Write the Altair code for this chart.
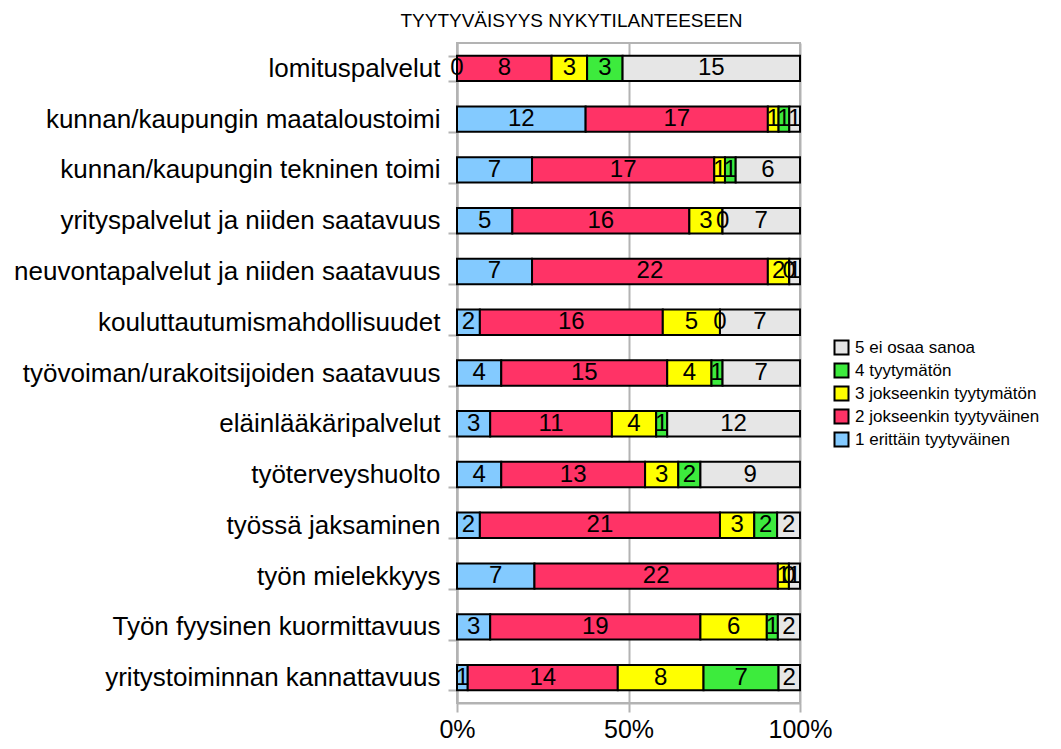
import altair as alt
import pandas as pd

categories = [
    "lomituspalvelut",
    "kunnan/kaupungin maataloustoimi",
    "kunnan/kaupungin tekninen toimi",
    "yrityspalvelut ja niiden saatavuus",
    "neuvontapalvelut ja niiden saatavuus",
    "kouluttautumismahdollisuudet",
    "työvoiman/urakoitsijoiden saatavuus",
    "eläinlääkäripalvelut",
    "työterveyshuolto",
    "työssä jaksaminen",
    "työn mielekkyys",
    "Työn fyysinen kuormittavuus",
    "yritystoiminnan kannattavuus",
]

levels = [
    "1 erittäin tyytyväinen",
    "2 jokseenkin tyytyväinen",
    "3 jokseenkin tyytymätön",
    "4 tyytymätön",
    "5 ei osaa sanoa",
]

v1 = [0, 12, 7, 5, 7, 2, 4, 3, 4, 2, 7, 3, 1]
v2 = [8, 17, 17, 16, 22, 16, 15, 11, 13, 21, 22, 19, 14]
v3 = [3, 1, 1, 3, 2, 5, 4, 4, 3, 3, 1, 6, 8]
v4 = [3, 1, 1, 0, 0, 0, 1, 1, 2, 2, 0, 1, 7]
v5 = [15, 1, 6, 7, 1, 7, 7, 12, 9, 2, 1, 2, 2]

colors = ["#83CAFF", "#FF3366", "#FFFF00", "#3DEB3D", "#E6E6E6"]

series = [v1, v2, v3, v4, v5]
rows = []
for i, cat in enumerate(categories):
    for code, (lvl, vals) in enumerate(zip(levels, series), start=1):
        rows.append({"kategoria": cat, "taso": lvl, "koodi": code, "arvo": vals[i]})
df = pd.DataFrame(rows)

FONT = "Liberation Sans"
GRID = "#b3b3b3"

y_enc = alt.Y(
    "kategoria:N",
    sort=categories,
    scale=alt.Scale(paddingInner=0.5, paddingOuter=0.25),
    axis=alt.Axis(
        title=None,
        grid=False,
        tickBand="extent",
        labelFontSize=26,
        labelPadding=8,
        tickSize=9,
        tickWidth=2,
        tickColor=GRID,
        domainColor=GRID,
        domainWidth=2,
        labelLimit=0,
        labelColor="black",
        labelFont=FONT,
    ),
)

base = alt.Chart(df)

bars = base.mark_bar(stroke="black", strokeWidth=2).encode(
    x=alt.X(
        "arvo:Q",
        stack="normalize",
        scale=alt.Scale(domain=[0, 1], nice=False),
        axis=alt.Axis(
            values=[0, 0.5, 1],
            format="%",
            title=None,
            grid=True,
            gridColor=GRID,
            gridWidth=2,
            domainColor=GRID,
            domainWidth=2,
            tickColor=GRID,
            tickWidth=2,
            tickSize=9,
            labelFontSize=25,
            labelPadding=5,
            labelFlush=False,
            labelColor="black",
            labelFont=FONT,
        ),
    ),
    y=y_enc,
    color=alt.Color(
        "taso:N",
        scale=alt.Scale(domain=levels[::-1], range=colors[::-1]),
        legend=alt.Legend(
            title=None,
            orient="none",
            legendX=376,
            legendY=296,
            symbolType="square",
            symbolSize=196,
            symbolStrokeColor="black",
            symbolStrokeWidth=2,
            symbolOpacity=1,
            labelFontSize=17,
            labelFont=FONT,
            labelColor="black",
            rowPadding=0,
            labelOffset=5,
            labelLimit=0,
        ),
    ),
    order=alt.Order("koodi:Q", sort="ascending"),
)

text = (
    base.transform_joinaggregate(total="sum(arvo)", groupby=["kategoria"])
    .transform_window(
        cum="sum(arvo)",
        sort=[alt.SortField("koodi")],
        groupby=["kategoria"],
        frame=[None, 0],
    )
    .transform_calculate(mid="(datum.cum - datum.arvo/2)/datum.total")
    .mark_text(fontSize=24, font=FONT, color="black")
    .encode(
        x=alt.X("mid:Q", scale=alt.Scale(domain=[0, 1], nice=False)),
        y=y_enc,
        text="arvo:Q",
    )
)

chart = (
    alt.layer(bars, text)
    .properties(
        width=343,
        height=660,
        title=alt.Title(
            "TYYTYVÄISYYS NYKYTILANTEESEEN",
            fontSize=19,
            fontWeight="normal",
            font=FONT,
            color="black",
            anchor="middle",
            dx=-57,
            dy=13,
            offset=12,
        ),
        autosize=alt.AutoSizeParams(type="none"),
        padding={"left": 449, "top": 35, "right": 253, "bottom": 38},
    )
    .configure_view(stroke=GRID, strokeWidth=2)
)

chart.save("out.html", embed_options={"renderer": "svg", "actions": False})
